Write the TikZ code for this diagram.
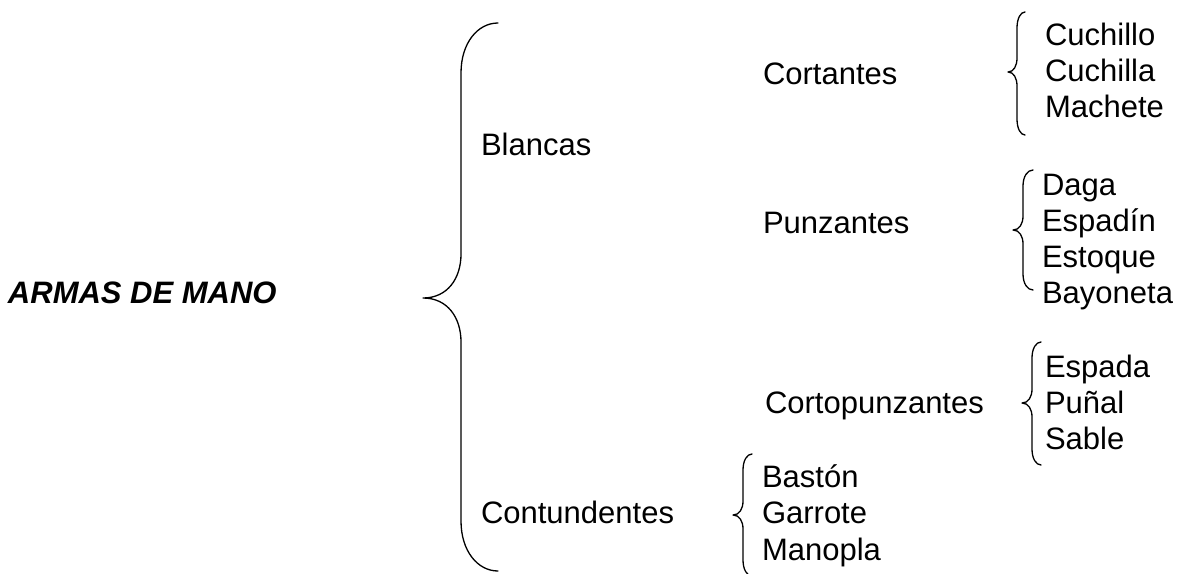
\documentclass[tikz,border=0pt]{standalone}
\usepackage{fontspec}
\setmainfont{Liberation Sans}
\tikzset{
  lbl/.style={anchor=base west, inner sep=0pt, outer sep=0pt, font=\fontsize{31}{36}\selectfont},
  ttl/.style={lbl, font=\fontsize{31}{36}\selectfont\bfseries\itshape},
  brc/.style={draw=black, line width=1.3pt, line cap=round, line join=round}
}
% \curlybrace{end x}{line x}{tip x}{top y}{middle y}{bottom y}{end bend}{tip bend}
\newcommand{\curlybrace}[8]{%
  \path[brc] (#1,#4)
      .. controls ({#2+0.45*(#1-#2)},#4) and (#2,{#4+0.4*#7}) .. ({#2},{#4+#7})
    -- ({#2},{#5-#8})
      .. controls (#2,{#5-0.45*#8}) and ({#2-0.35*(#2-#3)},#5) .. (#3,#5)
      .. controls ({#2-0.35*(#2-#3)},#5) and (#2,{#5+0.45*#8}) .. ({#2},{#5+#8})
    -- ({#2},{#6-#7})
      .. controls (#2,{#6-0.4*#7}) and ({#2+0.45*(#1-#2)},#6) .. (#1,#6);}
\begin{document}
\begin{tikzpicture}[x=1pt,y=-1pt]
\clip (0,0) rectangle (1188,573);
\fill[white] (0,0) rectangle (1188,573);

% root
\node[ttl] (root) at (8,303) {ARMAS DE MANO};
\curlybrace{498}{461}{423}{23}{298}{571}{50}{44}

% first level
\node[lbl] (blancas) at (481,155) {Blancas};
\node[lbl] (contund) at (481,523) {Contundentes};

% second level
\node[lbl] (cortantes) at (763,84) {Cortantes};
\node[lbl] (punzantes) at (763,233) {Punzantes};
\node[lbl] (cortopun) at (765,413) {Cortopunzantes};

% Cortantes
\curlybrace{1025}{1017}{1008}{12}{72}{135}{16}{14}
\node[lbl] (cuchillo) at (1045,45) {Cuchillo};
\node[lbl] (cuchilla) at (1045,81) {Cuchilla};
\node[lbl] (machete) at (1045,117) {Machete};

% Punzantes
\curlybrace{1033}{1023}{1013}{170}{230}{290}{16}{14}
\node[lbl] (daga) at (1042,195) {Daga};
\node[lbl] (espadin) at (1042,231) {Espadín};
\node[lbl] (estoque) at (1042,267) {Estoque};
\node[lbl] (bayoneta) at (1042,303) {Bayoneta};

% Cortopunzantes
\curlybrace{1041}{1032}{1022}{342}{403}{465}{16}{14}
\node[lbl] (espada) at (1045,377) {Espada};
\node[lbl] (punal) at (1045,413) {Puñal};
\node[lbl] (sable) at (1045,449) {Sable};

% Contundentes
\curlybrace{752}{743}{733}{454}{515}{576}{16}{14}
\node[lbl] (baston) at (762,487) {Bastón};
\node[lbl] (garrote) at (762,523) {Garrote};
\node[lbl] (manopla) at (762,560) {Manopla};
\end{tikzpicture}
\end{document}
